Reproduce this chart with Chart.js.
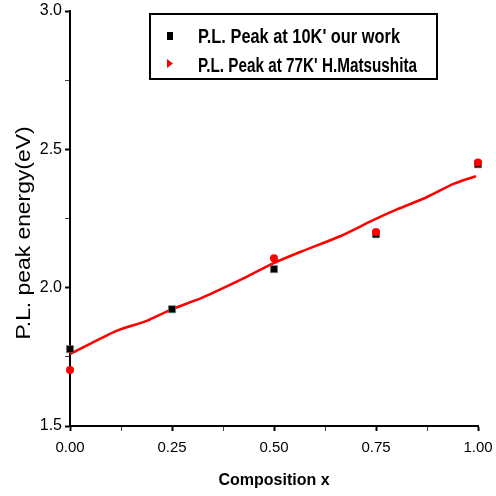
<!DOCTYPE html>
<html>
<head>
<meta charset="utf-8">
<script src="https://cdn.jsdelivr.net/npm/chart.js@4/dist/chart.umd.min.js"></script>
<style>
  html, body { margin: 0; padding: 0; background: #ffffff; }
  #wrap { width: 496px; height: 496px; position: relative; }
</style>
</head>
<body>
<div id="wrap"><canvas id="c" width="496" height="496"></canvas></div>
<script>
// ---- data ----
const legendLabels = ["P.L. Peak at 10K' our work", "P.L. Peak at 77K' H.Matsushita"];
const xTitle = 'Composition x';
const yTitle = 'P.L. peak energy(eV)';
const xTickValues = [0, 0.125, 0.25, 0.375, 0.5, 0.625, 0.75, 0.875, 1.0];
const xTickLabels = ["0.00", "", "0.25", "", "0.50", "", "0.75", "", "1.00"];
const yTickValues = [1.5, 1.75, 2.0, 2.25, 2.5, 2.75, 3.0];
const yTickLabels = ["1.5", "", "2.0", "", "2.5", "", "3.0"];
const compositionOurs = [0, 0.25, 0.5, 0.75, 1.0];
const peakOurs = [1.778, 1.922, 2.067, 2.193, 2.446];
const compositionMatsushita = [0, 0.5, 0.75, 1.0];
const peakMatsushita = [1.702, 2.106, 2.201, 2.452];
const fitComposition = [0, 0.114, 0.188, 0.245, 0.327, 0.42, 0.498, 0.564, 0.662, 0.743, 0.8, 0.874, 0.94, 0.995];
const fitPeak = [1.76, 1.844, 1.880, 1.919, 1.966, 2.03, 2.088, 2.129, 2.186, 2.244, 2.282, 2.327, 2.375, 2.403];

const zip = (xs, ys) => xs.map((x, i) => ({ x: x, y: ys[i] }));

const narrow = '"Liberation Sans Narrow", "Arial Narrow", "Liberation Sans", sans-serif';
const sans = '"Liberation Sans", Arial, sans-serif';

function fitText(ctx, text, x, y, targetW, rot) {
  const w = ctx.measureText(text).width;
  ctx.save();
  ctx.translate(x, y);
  if (rot) ctx.rotate(rot);
  ctx.scale(targetW / w, 1);
  ctx.fillText(text, 0, 0);
  ctx.restore();
}

const legendBox = {
  id: 'legendBox',
  afterDraw(chart) {
    const ctx = chart.ctx;
    ctx.save();
    ctx.strokeStyle = '#000';
    ctx.lineWidth = 2;
    ctx.strokeRect(150, 14, 287, 65);
    // markers
    ctx.fillStyle = '#000';
    ctx.fillRect(167, 32, 6, 8);
    ctx.fillStyle = '#ff0000';
    ctx.beginPath();
    ctx.moveTo(167, 59);
    ctx.lineTo(173, 63.5);
    ctx.lineTo(167, 68);
    ctx.closePath();
    ctx.fill();
    // legend text
    ctx.fillStyle = '#000';
    ctx.font = 'bold 20px ' + narrow;
    ctx.textBaseline = 'alphabetic';
    ctx.textAlign = 'left';
    fitText(ctx, legendLabels[0], 198, 43, 202, 0);
    fitText(ctx, legendLabels[1], 198, 72, 219, 0);
    // y axis title
    ctx.font = '21px ' + sans;
    ctx.textAlign = 'center';
    ctx.textBaseline = 'middle';
    fitText(ctx, yTitle, 24, 233, 213, -Math.PI / 2);
    ctx.restore();
  }
};

const bg = {
  id: 'bg',
  beforeDraw(chart) {
    const ctx = chart.ctx;
    ctx.save();
    ctx.fillStyle = '#fff';
    ctx.fillRect(0, 0, chart.width, chart.height);
    ctx.restore();
  }
};

new Chart(document.getElementById('c'), {
  type: 'scatter',
  data: {
    datasets: [
      {
        label: legendLabels[1],
        data: zip(compositionMatsushita, peakMatsushita),
        backgroundColor: '#ff0000',
        borderColor: '#ff0000',
        pointStyle: 'circle',
        pointRadius: 4,
        borderWidth: 0,
        order: 0,
        clip: false
      },
      {
        label: legendLabels[0],
        data: zip(compositionOurs, peakOurs),
        backgroundColor: '#000',
        borderColor: '#777',
        pointStyle: 'rect',
        pointRadius: 5,
        borderWidth: 0.6,
        order: 1,
        clip: false
      },
      {
        label: 'fit',
        type: 'line',
        data: zip(fitComposition, fitPeak),
        borderColor: '#ff0000',
        borderWidth: 2.6,
        pointRadius: 0,
        tension: 0.25,
        fill: false,
        order: 2
      }
    ]
  },
  options: {
    responsive: false,
    animation: false,
    events: [],
    layout: { padding: { top: 11, right: 18, left: 0, bottom: 0 } },
    plugins: { legend: { display: false }, tooltip: { enabled: false } },
    scales: {
      x: {
        type: 'linear',
        min: 0, max: 1,
        afterBuildTicks(scale) { scale.ticks = xTickValues.map(v => ({ value: v })); },
        afterFit(scale) { scale.height = 70; scale.paddingLeft = 0; scale.paddingRight = 0; },
        border: { display: true, color: '#000', width: 2 },
        grid: {
          drawOnChartArea: false,
          drawTicks: true,
          tickLength: 5,
          tickColor: (c) => (c.index % 2 === 0 ? '#000' : '#444'),
          tickWidth: (c) => (c.index % 2 === 0 ? 2 : 1)
        },
        ticks: {
          autoSkip: false,
          maxRotation: 0,
          padding: 8,
          color: '#000',
          font: { family: narrow, size: 15 },
          callback: (v, i) => xTickLabels[i]
        },
        title: {
          display: true,
          text: xTitle,
          color: '#000',
          font: { family: narrow, size: 16, weight: 'bold' },
          padding: { top: 0, bottom: 6 }
        }
      },
      y: {
        type: 'linear',
        min: 1.5, max: 3.0,
        afterBuildTicks(scale) { scale.ticks = yTickValues.map(v => ({ value: v })); },
        afterFit(scale) { scale.width = 70; scale.paddingTop = 0; scale.paddingBottom = 0; },
        border: { display: true, color: '#000', width: 2 },
        grid: {
          drawOnChartArea: false,
          drawTicks: true,
          tickLength: 5,
          tickColor: (c) => (c.index % 2 === 0 ? '#000' : '#444'),
          tickWidth: (c) => (c.index % 2 === 0 ? 2 : 1)
        },
        ticks: {
          autoSkip: false,
          padding: 3,
          color: '#000',
          font: { family: sans, size: 16 },
          callback: (v, i) => yTickLabels[i]
        },
        title: { display: false }
      }
    }
  },
  plugins: [bg, legendBox]
});
</script>
</body>
</html>
